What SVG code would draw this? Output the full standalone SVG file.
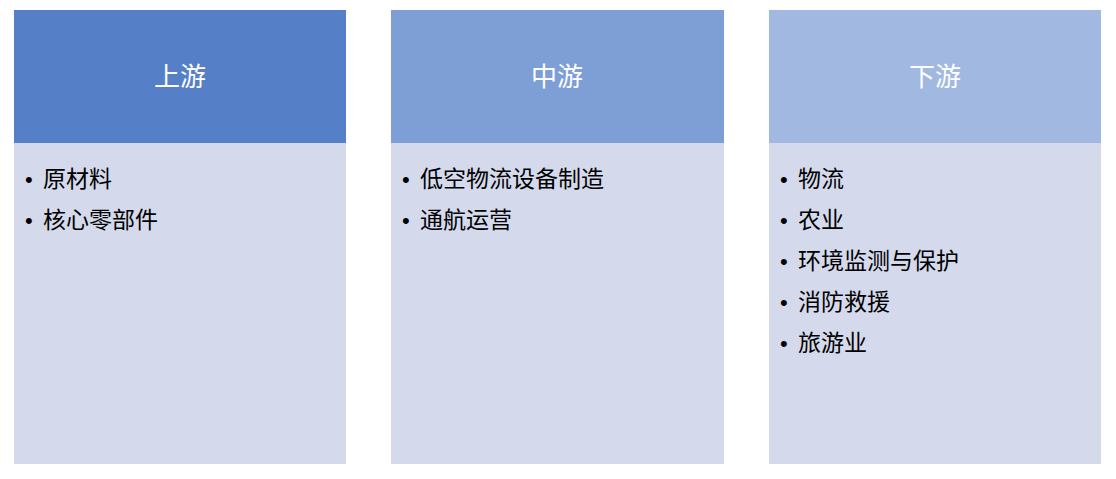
<svg xmlns="http://www.w3.org/2000/svg" width="1116" height="479" viewBox="0 0 1116 479">
<style>
.hd{font-family:"Noto Sans CJK SC","Liberation Sans",sans-serif;font-size:26px;fill:#ffffff;text-anchor:middle}
.it{font-family:"Noto Sans CJK SC","Liberation Sans",sans-serif;font-size:23px;fill:#000000}
.bu{font-family:"Liberation Sans",sans-serif;font-size:22px;fill:#000000}
.body{fill:#D4D9EC}
</style>
<rect width="1116" height="479" fill="#ffffff"/>
<g id="upstream">
<rect x="14" y="10" width="332" height="133" fill="#5580C8"/>
<rect class="body" x="14" y="143" width="332" height="321"/>
<text class="hd" x="180" y="86">上游</text>
<text class="bu" x="25" y="187">•</text><text class="it" x="43" y="187">原材料</text>
<text class="bu" x="25" y="228">•</text><text class="it" x="43" y="228">核心零部件</text>
</g>
<g id="midstream">
<rect x="391" y="10" width="333" height="133" fill="#7E9ED6"/>
<rect class="body" x="391" y="143" width="333" height="321"/>
<text class="hd" x="557" y="86">中游</text>
<text class="bu" x="402" y="187">•</text><text class="it" x="420" y="187">低空物流设备制造</text>
<text class="bu" x="402" y="228">•</text><text class="it" x="420" y="228">通航运营</text>
</g>
<g id="downstream">
<rect x="769" y="10" width="332" height="133" fill="#A1B8E0"/>
<rect class="body" x="769" y="143" width="332" height="321"/>
<text class="hd" x="935" y="86">下游</text>
<text class="bu" x="780" y="187">•</text><text class="it" x="798" y="187">物流</text>
<text class="bu" x="780" y="228">•</text><text class="it" x="798" y="228">农业</text>
<text class="bu" x="780" y="269">•</text><text class="it" x="798" y="269">环境监测与保护</text>
<text class="bu" x="780" y="310">•</text><text class="it" x="798" y="310">消防救援</text>
<text class="bu" x="780" y="351">•</text><text class="it" x="798" y="351">旅游业</text>
</g>
<g id="connectors"></g>
</svg>
